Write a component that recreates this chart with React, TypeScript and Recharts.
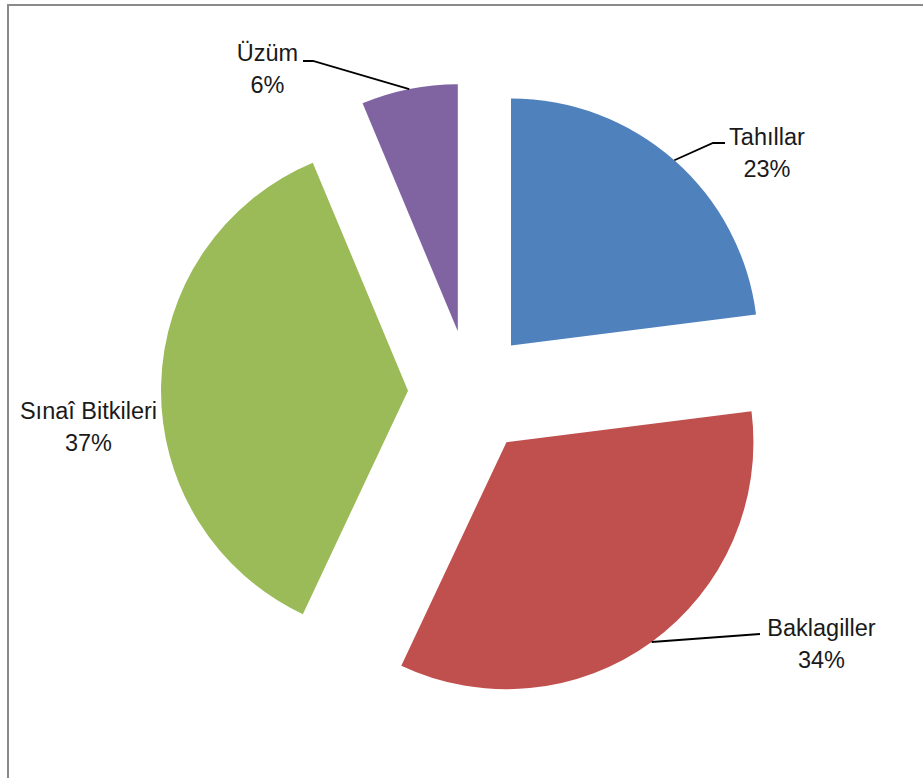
import React from "react";
import { PieChart, Pie, Cell, Sector } from "recharts";

const categories = ["Tahıllar", "Baklagiller", "Sınaî Bitkileri", "Üzüm"];
const shares = [23, 34, 36.7, 6.3];
const colors = ["#4F81BD", "#C0504D", "#9BBB59", "#8064A2"];

const data = categories.map((name, i) => ({ name, value: shares[i] }));

const RAD = Math.PI / 180;
const EXPLODE = 62;
const OUTER_R = 247;
const FONT = "'Liberation Sans', Arial, sans-serif";
const FONT_SIZE = 23.5;

// Label placement (relative to the pie centre), mimicking the spreadsheet's label layout
const labelLayout = [
  { tx: 297, ty: -247, leader: [[243, -249], [255, -249]] },
  { tx: 351.5, ty: 244, leader: [[290, 242], [290, 242]] },
  { tx: -381.5, ty: 27, leader: null },
  { tx: -202.5, ty: -331, leader: [[-157, -331], [-167, -331]] },
];

const explodedShape = (props: any) => {
  const { cx, cy, midAngle, startAngle, endAngle, innerRadius, outerRadius, fill } = props;
  const dx = EXPLODE * Math.cos(-midAngle * RAD);
  const dy = EXPLODE * Math.sin(-midAngle * RAD);
  return (
    <Sector
      cx={cx + dx}
      cy={cy + dy}
      innerRadius={innerRadius}
      outerRadius={outerRadius}
      startAngle={startAngle}
      endAngle={endAngle}
      fill={fill}
      stroke="none"
    />
  );
};

const renderLabel = (props: any) => {
  const { cx, cy, midAngle, outerRadius, index, name, percent } = props;
  const layout = labelLayout[index];
  if (!layout) return null;
  const cos = Math.cos(-midAngle * RAD);
  const sin = Math.sin(-midAngle * RAD);
  const ax = cx + (EXPLODE + outerRadius) * cos;
  const ay = cy + (EXPLODE + outerRadius) * sin;
  const pct = `${Math.round(percent * 100)}%`;
  return (
    <g>
      {layout.leader && (
        <polyline
          points={`${ax},${ay} ${cx + layout.leader[0][0]},${cy + layout.leader[0][1]} ${cx + layout.leader[1][0]},${cy + layout.leader[1][1]}`}
          fill="none"
          stroke="#000"
          strokeWidth={1.8}
        />
      )}
      <text
        x={cx + layout.tx}
        y={cy + layout.ty}
        textAnchor="middle"
        fontFamily={FONT}
        fontSize={FONT_SIZE}
        fill="#1a1a1a"
      >
        {name}
      </text>
      <text
        x={cx + layout.tx}
        y={cy + layout.ty + 32}
        textAnchor="middle"
        fontFamily={FONT}
        fontSize={FONT_SIZE}
        fill="#1a1a1a"
      >
        {pct}
      </text>
    </g>
  );
};

export default function App() {
  const pieProps: any = {
    shape: explodedShape,
    activeShape: explodedShape,
    inactiveShape: explodedShape,
  };
  return (
    <div
      style={{
        position: "fixed",
        left: 0,
        top: 0,
        width: 923,
        height: 778,
        overflow: "hidden",
        background: "#fff",
      }}
    >
      <div
        style={{
          position: "absolute",
          left: 7,
          top: 4,
          width: 1000,
          height: 1000,
          borderLeft: "2px solid #8a8a8a",
          borderTop: "2px solid #8a8a8a",
        }}
      />
      <div style={{ position: "absolute", left: 0, top: 0 }}>
        <PieChart width={923} height={778} margin={{ top: 0, right: 0, bottom: 0, left: 0 }}>
          <Pie
            data={data}
            dataKey="value"
            nameKey="name"
            cx={470}
            cy={392}
            outerRadius={OUTER_R}
            startAngle={90}
            endAngle={-270}
            stroke="none"
            isAnimationActive={false}
            {...pieProps}
            label={renderLabel}
            labelLine={false}
          >
            {data.map((d, i) => (
              <Cell key={d.name} fill={colors[i]} />
            ))}
          </Pie>
        </PieChart>
      </div>
    </div>
  );
}
